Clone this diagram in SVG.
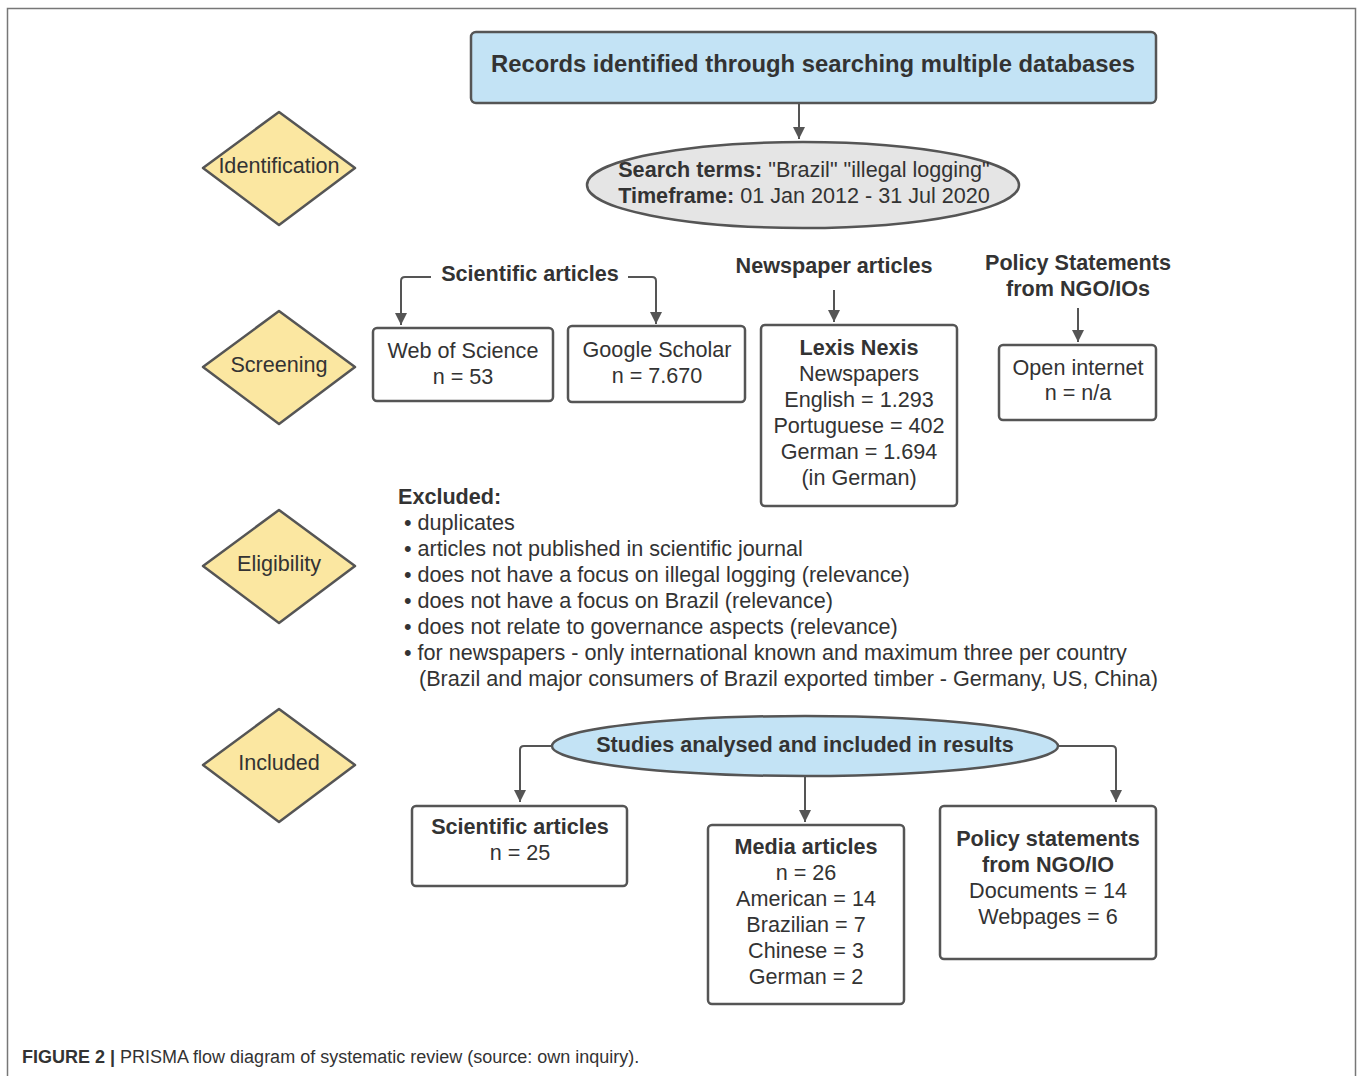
<svg xmlns="http://www.w3.org/2000/svg" width="1358" height="1076" viewBox="0 0 1358 1076">
<defs>
<style>
text{font-family:"Liberation Sans",Arial,sans-serif;fill:#333;font-size:21.6px}
.b{font-weight:bold}
.c{text-anchor:middle}
.box{fill:#fff;stroke:#555;stroke-width:2.5}
.dia{fill:#fbe7a1;stroke:#555;stroke-width:2.5;stroke-linejoin:round}
.ln{fill:none;stroke:#555;stroke-width:2}
</style>
<marker id="ah" viewBox="0 0 10 10" refX="10" refY="5" markerWidth="12" markerHeight="12" markerUnits="userSpaceOnUse" orient="auto">
<path d="M0,0 L10,5 L0,10 z" fill="#555"/>
</marker>
</defs>
<rect width="1358" height="1076" fill="#fff"/>
<path d="M7.5,1076 V8.5 H1355.5 V1076" fill="none" stroke="#777" stroke-width="1.5"/>

<g id="connectors">
<path class="ln" d="M799,103 V139" marker-end="url(#ah)"/>
<path class="ln" d="M431,277 H405 Q401,277 401,281 V325" marker-end="url(#ah)"/>
<path class="ln" d="M628,277 H652 Q656,277 656,281 V324" marker-end="url(#ah)"/>
<path class="ln" d="M834,290 V322" marker-end="url(#ah)"/>
<path class="ln" d="M1078,308 V342" marker-end="url(#ah)"/>
<path class="ln" d="M552,746 H524 Q520,746 520,750 V802" marker-end="url(#ah)"/>
<path class="ln" d="M1058,746 H1112 Q1116,746 1116,750 V802" marker-end="url(#ah)"/>
<path class="ln" d="M805,776 V822" marker-end="url(#ah)"/>
</g>

<g id="records">
<rect x="471" y="32" width="685" height="71" rx="5" fill="#c3e3f5" stroke="#555" stroke-width="2.5"/>
<text class="b c" x="813" y="72" style="font-size:23.8px">Records identified through searching multiple databases</text>
</g>

<g id="search">
<ellipse cx="803" cy="185" rx="216" ry="43" fill="#e5e5e5" stroke="#555" stroke-width="2.5"/>
<text class="c" x="804" y="177"><tspan class="b">Search terms:</tspan> "Brazil" "illegal logging"</text>
<text class="c" x="804" y="203"><tspan class="b">Timeframe:</tspan> 01 Jan 2012 - 31 Jul 2020</text>
</g>

<g id="identification">
<path class="dia" d="M279,112 L355,168 L279,225 L203,168 Z"/>
<text class="c" x="279" y="173">Identification</text>
</g>
<g id="screening">
<path class="dia" d="M279,311 L355,367 L279,424 L203,367 Z"/>
<text class="c" x="279" y="372">Screening</text>
</g>
<g id="eligibility">
<path class="dia" d="M279,510 L355,566 L279,623 L203,566 Z"/>
<text class="c" x="279" y="571">Eligibility</text>
</g>
<g id="included">
<path class="dia" d="M279,709 L355,765 L279,822 L203,765 Z"/>
<text class="c" x="279" y="770">Included</text>
</g>

<g id="sci-label">
<text class="b c" x="530" y="281">Scientific articles</text>
</g>
<g id="wos">
<rect class="box" x="373" y="328" width="180" height="73" rx="4"/>
<text class="c" x="463" y="358">Web of Science</text>
<text class="c" x="463" y="384">n = 53</text>
</g>
<g id="scholar">
<rect class="box" x="568" y="326" width="177" height="76" rx="4"/>
<text class="c" x="657" y="357">Google Scholar</text>
<text class="c" x="657" y="383">n = 7.670</text>
</g>
<g id="news-label">
<text class="b c" x="834" y="273">Newspaper articles</text>
</g>
<g id="lexis">
<rect class="box" x="761" y="325" width="196" height="181" rx="4"/>
<text class="b c" x="859" y="355">Lexis Nexis</text>
<text class="c" x="859" y="381">Newspapers</text>
<text class="c" x="859" y="407">English = 1.293</text>
<text class="c" x="859" y="433">Portuguese = 402</text>
<text class="c" x="859" y="459">German = 1.694</text>
<text class="c" x="859" y="485">(in German)</text>
</g>
<g id="policy-label">
<text class="b c" x="1078" y="270">Policy Statements</text>
<text class="b c" x="1078" y="296">from NGO/IOs</text>
</g>
<g id="open">
<rect class="box" x="999" y="345" width="157" height="75" rx="4"/>
<text class="c" x="1078" y="375">Open internet</text>
<text class="c" x="1078" y="400">n = n/a</text>
</g>

<g id="excluded">
<text class="b" x="398" y="504">Excluded:</text>
<text x="404" y="530">• duplicates</text>
<text x="404" y="556">• articles not published in scientific journal</text>
<text x="404" y="582">• does not have a focus on illegal logging (relevance)</text>
<text x="404" y="608">• does not have a focus on Brazil (relevance)</text>
<text x="404" y="634">• does not relate to governance aspects (relevance)</text>
<text x="404" y="660">• for newspapers - only international known and maximum three per country</text>
<text x="419" y="686">(Brazil and major consumers of Brazil exported timber - Germany, US, China)</text>
</g>

<g id="studies">
<ellipse cx="805" cy="746" rx="253" ry="30" fill="#c3e3f5" stroke="#555" stroke-width="2.5"/>
<text class="b c" x="805" y="752">Studies analysed and included in results</text>
</g>
<g id="sci-result">
<rect class="box" x="412" y="806" width="215" height="80" rx="4"/>
<text class="b c" x="520" y="834">Scientific articles</text>
<text class="c" x="520" y="860">n = 25</text>
</g>
<g id="media">
<rect class="box" x="708" y="825" width="196" height="179" rx="4"/>
<text class="b c" x="806" y="854">Media articles</text>
<text class="c" x="806" y="880">n = 26</text>
<text class="c" x="806" y="906">American = 14</text>
<text class="c" x="806" y="932">Brazilian = 7</text>
<text class="c" x="806" y="958">Chinese = 3</text>
<text class="c" x="806" y="984">German = 2</text>
</g>
<g id="policy-result">
<rect class="box" x="940" y="806" width="216" height="153" rx="4"/>
<text class="b c" x="1048" y="846">Policy statements</text>
<text class="b c" x="1048" y="872">from NGO/IO</text>
<text class="c" x="1048" y="898">Documents = 14</text>
<text class="c" x="1048" y="924">Webpages = 6</text>
</g>

<g id="caption">
<text x="22" y="1063" style="font-size:18px"><tspan class="b">FIGURE 2 |</tspan> PRISMA flow diagram of systematic review (source: own inquiry).</text>
</g>
</svg>
